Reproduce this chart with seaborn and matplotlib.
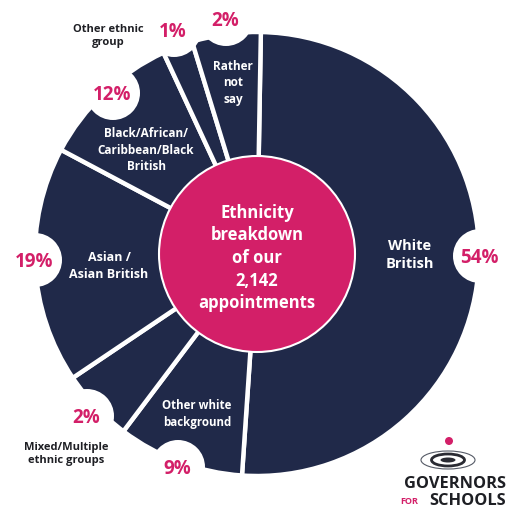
import matplotlib
matplotlib.use("Agg")
import matplotlib.pyplot as plt
import seaborn as sns
from matplotlib.patches import Circle, Ellipse

# ---------------- data ----------------
categories = ["White British", "Other white background", "Mixed/Multiple ethnic groups",
              "Asian / Asian British", "Black/African/Caribbean/Black British",
              "Other ethnic group", "Rather not say"]
percent_labels = ["54%", "9%", "2%", "19%", "12%", "1%", "2%"]
# share of the circle each slice occupies in the drawing
drawn_share = [50.8, 9.2, 5.3, 17.2, 10.3, 2.2, 5.0]
slice_text = ["White\nBritish", "Other white\nbackground", "Mixed/Multiple\nethnic groups",
              "Asian /\nAsian British", "Black/African/\nCaribbean/Black\nBritish",
              "Other ethnic\ngroup", "Rather\nnot\nsay"]
centre_title = "Ethnicity\nbreakdown\nof our\n2,142\nappointments"

# ---------------- style ----------------
sns.set_theme(style="white")
plt.rcParams['font.family'] = ['Open Sans', 'DejaVu Sans']
NAVY = "#202949"
PINK = "#d31f68"
DARK = "#1e1f24"
pal = sns.color_palette([NAVY] * len(categories))

W, H = 508, 510
fig = plt.figure(figsize=(W / 100, H / 100), dpi=100)
ax = fig.add_axes([0, 0, 1, 1])

def py(y):  # pixel-from-top to data y
    return H - y

cx, cy, R = 257, py(255), 222
wedges, _ = ax.pie(drawn_share, colors=pal, startangle=89, counterclock=False,
                   center=(cx, cy), radius=R, frame=True,
                   wedgeprops=dict(edgecolor="white", linewidth=3.2))
ax.set_xlim(0, W)
ax.set_ylim(0, H)
ax.set_aspect("equal")
ax.axis("off")

# layout: label anchor positions (pixels)
pct_pos = [(479, 258), (177, 469), (86, 418), (34, 262), (112, 95), (173, 32), (225, 21)]
in_pos = [(410, 255), (197, 414), (66, 454), (109, 266), (146, 150), (108, 36), (233, 83)]
inside = [True, True, False, True, True, False, True]
txt_size = [10.5, 8.3, 8.0, 9.0, 8.5, 8.0, 8.5]

for (x, y) in pct_pos:
    ax.add_patch(Circle((x + 1, py(y - 1)), 27, facecolor="white", edgecolor="none", zorder=3))

for lab, (x, y) in zip(percent_labels, pct_pos):
    ax.text(x, py(y), lab, color=PINK, fontsize=13.5, fontweight="bold",
            ha="center", va="center", zorder=5)

for txt, (x, y), ins, fs in zip(slice_text, in_pos, inside, txt_size):
    ax.text(x, py(y), txt, color="white" if ins else DARK, fontsize=fs,
            fontweight="bold", ha="center", va="center", linespacing=1.35, zorder=5)

# centre disc
ax.add_patch(Circle((cx, cy), 98, facecolor=PINK, edgecolor="white", linewidth=1.5, zorder=4))
ax.text(cx, py(258), centre_title, color="white", fontsize=12, fontweight="bold",
        ha="center", va="center", linespacing=1.33, zorder=5)

# logo
ax.add_patch(Circle((449, py(442)), 4, facecolor=PINK, edgecolor="none", zorder=5))
ax.add_patch(Ellipse((448, py(461)), 54, 18, facecolor="white", edgecolor="#555a66", linewidth=0.8, zorder=5))
ax.add_patch(Ellipse((448, py(461)), 33, 12, facecolor="white", edgecolor="#2a2b33", linewidth=2.0, zorder=5))
ax.add_patch(Ellipse((448, py(461)), 15, 5, facecolor="#2a2b33", edgecolor="none", zorder=6))
ax.text(506, py(488.5), "GOVERNORS", color=DARK, fontsize=11.8, fontweight="bold",
        ha="right", va="baseline", zorder=5)
ax.text(506, py(505.5), "SCHOOLS", color=DARK, fontsize=11.8, fontweight="bold",
        ha="right", va="baseline", zorder=5)
ax.text(409, py(504), "FOR", color=PINK, fontsize=6.5, fontweight="bold",
        ha="center", va="baseline", zorder=5)

fig.savefig("out.png", dpi=100, facecolor="white")
